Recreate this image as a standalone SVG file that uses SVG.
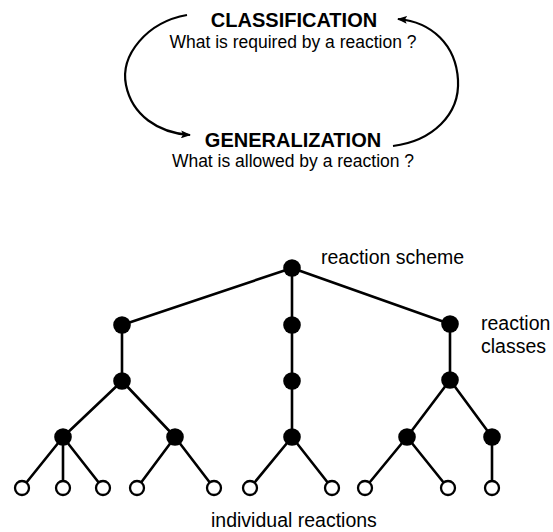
<svg xmlns="http://www.w3.org/2000/svg" width="553" height="532" viewBox="0 0 553 532">
  <style>
    .title { font-family: "Liberation Sans", Arial, sans-serif; font-weight: bold; font-size: 20px; fill: #000; }
    .sub { font-family: "Liberation Sans", Arial, sans-serif; font-size: 17.5px; fill: #000; }
    .label { font-family: "Liberation Sans", Arial, sans-serif; font-size: 19.5px; fill: #000; }
    .arc { fill: none; stroke: #000; stroke-width: 2.2; }
    .edge { stroke: #000; stroke-width: 2.6; stroke-linecap: round; }
    .inner { fill: #000; }
    .leaf { fill: #fff; stroke: #000; stroke-width: 2.3; }
  </style>
  <defs>
    <marker id="head" markerWidth="10" markerHeight="8" refX="9" refY="4" orient="auto" markerUnits="userSpaceOnUse">
      <path d="M0,0 L10,4 L0,8 L2,4 Z" fill="#000"/>
    </marker>
  </defs>

  <rect width="553" height="532" fill="#fff"/>

  <!-- cycle between the two questions -->
  <g id="cycle">
    <path class="arc" d="M187,15 C147,22 120,55 126,85 C132,115 158,133 190,135" marker-end="url(#head)"/>
    <path class="arc" d="M393,146 C432,141 460,115 458,80 C456,45 432,22 398,19" marker-end="url(#head)"/>
  </g>

  <g id="classification">
    <text class="title" x="294" y="27" text-anchor="middle">CLASSIFICATION</text>
    <text class="sub" x="293" y="48" text-anchor="middle">What is required by a reaction ?</text>
  </g>

  <g id="generalization">
    <text class="title" x="293" y="147" text-anchor="middle">GENERALIZATION</text>
    <text class="sub" x="293" y="167" text-anchor="middle">What is allowed by a reaction ?</text>
  </g>

  <!-- tree edges -->
  <g id="edges">
    <line class="edge" x1="292" y1="268" x2="122" y2="325"/>
    <line class="edge" x1="292" y1="268" x2="292" y2="325"/>
    <line class="edge" x1="292" y1="268" x2="450" y2="324"/>
    <line class="edge" x1="122" y1="325" x2="122" y2="381"/>
    <line class="edge" x1="292" y1="325" x2="292" y2="381"/>
    <line class="edge" x1="450" y1="324" x2="450" y2="380"/>
    <line class="edge" x1="122" y1="381" x2="63" y2="437"/>
    <line class="edge" x1="122" y1="381" x2="175" y2="437"/>
    <line class="edge" x1="292" y1="381" x2="292" y2="437"/>
    <line class="edge" x1="450" y1="380" x2="407" y2="437"/>
    <line class="edge" x1="450" y1="380" x2="492" y2="437"/>
    <line class="edge" x1="63" y1="437" x2="22" y2="488"/>
    <line class="edge" x1="63" y1="437" x2="63" y2="488"/>
    <line class="edge" x1="63" y1="437" x2="103" y2="488"/>
    <line class="edge" x1="175" y1="437" x2="137" y2="488"/>
    <line class="edge" x1="175" y1="437" x2="214" y2="488"/>
    <line class="edge" x1="292" y1="437" x2="250" y2="488"/>
    <line class="edge" x1="292" y1="437" x2="332" y2="488"/>
    <line class="edge" x1="407" y1="437" x2="365" y2="488"/>
    <line class="edge" x1="407" y1="437" x2="448" y2="488"/>
    <line class="edge" x1="492" y1="437" x2="492" y2="488"/>
  </g>

  <!-- reaction scheme and reaction classes -->
  <g id="root"><circle class="inner" cx="292" cy="268" r="8.8"/></g>
  <g id="c1"><circle class="inner" cx="122" cy="325" r="8.8"/></g>
  <g id="c2"><circle class="inner" cx="292" cy="325" r="8.8"/></g>
  <g id="c3"><circle class="inner" cx="450" cy="324" r="8.8"/></g>
  <g id="c11"><circle class="inner" cx="122" cy="381" r="8.8"/></g>
  <g id="c21"><circle class="inner" cx="292" cy="381" r="8.8"/></g>
  <g id="c31"><circle class="inner" cx="450" cy="380" r="8.8"/></g>
  <g id="c111"><circle class="inner" cx="63" cy="437" r="8.8"/></g>
  <g id="c112"><circle class="inner" cx="175" cy="437" r="8.8"/></g>
  <g id="c211"><circle class="inner" cx="292" cy="437" r="8.8"/></g>
  <g id="c311"><circle class="inner" cx="407" cy="437" r="8.8"/></g>
  <g id="c312"><circle class="inner" cx="492" cy="437" r="8.8"/></g>

  <!-- individual reactions -->
  <g id="r1"><circle class="leaf" cx="22" cy="488" r="7"/></g>
  <g id="r2"><circle class="leaf" cx="63" cy="488" r="7"/></g>
  <g id="r3"><circle class="leaf" cx="103" cy="488" r="7"/></g>
  <g id="r4"><circle class="leaf" cx="137" cy="488" r="7"/></g>
  <g id="r5"><circle class="leaf" cx="214" cy="488" r="7"/></g>
  <g id="r6"><circle class="leaf" cx="250" cy="488" r="7"/></g>
  <g id="r7"><circle class="leaf" cx="332" cy="488" r="7"/></g>
  <g id="r8"><circle class="leaf" cx="365" cy="488" r="7"/></g>
  <g id="r9"><circle class="leaf" cx="448" cy="488" r="7"/></g>
  <g id="r10"><circle class="leaf" cx="492" cy="488" r="7"/></g>

  <g id="labels">
    <text class="label" x="321" y="264">reaction scheme</text>
    <text class="label" x="481" y="330">reaction</text>
    <text class="label" x="481" y="353">classes</text>
    <text class="label" x="211" y="527" font-size="20.5">individual reactions</text>
  </g>
</svg>
